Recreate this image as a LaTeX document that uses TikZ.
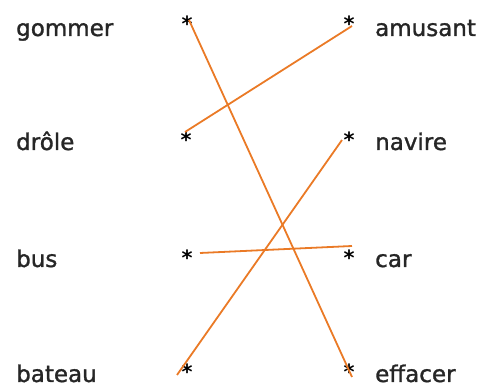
\documentclass[tikz,border=0pt]{standalone}
\usepackage{fontspec}
\setmainfont{DejaVu Sans}
\newfontfamily\wordfont[FakeBold=1.3]{DejaVu Sans}
\definecolor{linkorange}{RGB}{234,122,38}
\begin{document}
\begin{tikzpicture}[x=1pt,y=-1pt,
  word/.style={anchor=base west,inner sep=0pt,font=\wordfont\fontsize{23}{25}\selectfont,text=black!85},
  astk/.style={anchor=base,inner sep=0pt,font=\bfseries\fontsize{21}{23}\selectfont},
  link/.style={draw=linkorange,line width=1.8pt}]
\useasboundingbox (0,0) rectangle (488,387);
% words
\node[word] (w1) at (16,36) {gommer};
\node[word] (w2) at (16,150) {drôle};
\node[word] (w3) at (16,267) {bus};
\node[word] (w4) at (16,382) {bateau};
\node[word] (w5) at (375,36) {amusant};
\node[word] (w6) at (375,150) {navire};
\node[word] (w7) at (375,267) {car};
\node[word] (w8) at (375,382) {effacer};
% stars
\node[astk] (s1) at (187,32) {*};
\node[astk] (s2) at (186,148) {*};
\node[astk] (s3) at (187,266) {*};
\node[astk] (s4) at (187,380) {*};
\node[astk] (s5) at (349,32) {*};
\node[astk] (s6) at (349,148) {*};
\node[astk] (s7) at (349,266) {*};
\node[astk] (s8) at (349,380) {*};
% line ends
\coordinate (a1) at (189,20);
\coordinate (b1) at (352,377);
\coordinate (a2) at (185,132);
\coordinate (b2) at (352,26);
\coordinate (a3) at (200,253);
\coordinate (b3) at (352,246);
\coordinate (a4) at (177,375);
\coordinate (b4) at (342,140);
\draw[link] (a1) -- (b1);
\draw[link] (a2) -- (b2);
\draw[link] (a3) -- (b3);
\draw[link] (a4) -- (b4);
\end{tikzpicture}
\end{document}
